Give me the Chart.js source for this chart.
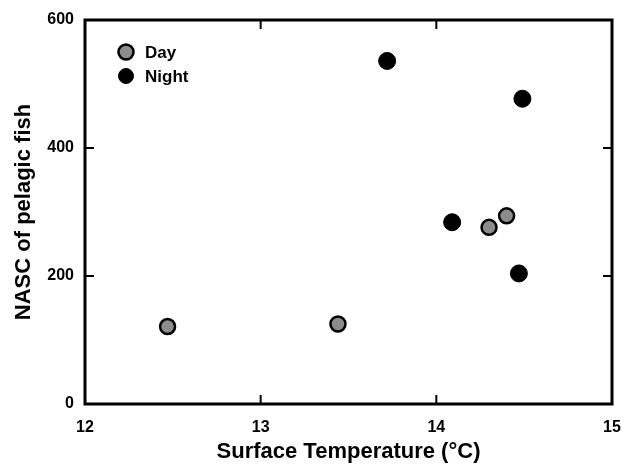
<!DOCTYPE html>
<html>
<head>
<meta charset="utf-8">
<script src="https://cdn.jsdelivr.net/npm/chart.js@4/dist/chart.umd.min.js"></script>
<style>
  html, body { margin: 0; padding: 0; background: #fff; }
  #wrap { width: 626px; height: 465px; }
</style>
</head>
<body>
<div id="wrap"><canvas id="c"></canvas></div>
<script>
// values
const dayTemp = [12.47, 13.44, 14.30, 14.40];
const dayNasc = [121, 125, 276, 294];
const nightTemp = [13.72, 14.09, 14.47, 14.49];
const nightNasc = [536, 284, 204, 477];
const xTicks = [12, 13, 14, 15];
const yTicks = [0, 200, 400, 600];

const FONT = 'Arial, "Liberation Sans", sans-serif';

const toPoints = (xs, ys) => xs.map((x, i) => ({ x: x, y: ys[i] }));

// frame on all four sides with inward ticks
const framePlugin = {
  id: 'frame',
  afterDatasetsDraw(chart) {
    const { ctx, chartArea: a, scales } = chart;
    const len = 9;
    ctx.save();
    ctx.strokeStyle = '#000';
    ctx.lineWidth = 3;
    ctx.strokeRect(a.left, a.top, a.right - a.left, a.bottom - a.top);
    ctx.lineWidth = 2;
    ctx.beginPath();
    xTicks.forEach(v => {
      const px = scales.x.getPixelForValue(v);
      ctx.moveTo(px, a.bottom); ctx.lineTo(px, a.bottom - len);
      ctx.moveTo(px, a.top); ctx.lineTo(px, a.top + len);
    });
    yTicks.forEach(v => {
      const py = scales.y.getPixelForValue(v);
      ctx.moveTo(a.left, py); ctx.lineTo(a.left + len, py);
      ctx.moveTo(a.right, py); ctx.lineTo(a.right - len, py);
    });
    ctx.stroke();
    ctx.restore();
  }
};

// legend inside the plot, top-left
const innerLegend = {
  id: 'innerLegend',
  afterDraw(chart) {
    const { ctx, chartArea: a } = chart;
    ctx.save();
    ctx.font = 'bold 17px ' + FONT;
    ctx.textBaseline = 'middle';
    chart.data.datasets.forEach((ds, i) => {
      const cx = a.left + 41, cy = a.top + 32 + i * 24;
      ctx.beginPath();
      ctx.arc(cx, cy, 7.5, 0, Math.PI * 2);
      ctx.fillStyle = ds.backgroundColor;
      ctx.fill();
      ctx.lineWidth = ds.borderWidth;
      ctx.strokeStyle = ds.borderColor;
      ctx.stroke();
      ctx.fillStyle = '#000';
      ctx.fillText(ds.label, cx + 19, cy + 1);
    });
    ctx.restore();
  }
};

new Chart(document.getElementById('c'), {
  type: 'scatter',
  data: {
    datasets: [
      { label: 'Day', data: toPoints(dayTemp, dayNasc), backgroundColor: '#8c8c8c', borderColor: '#000', borderWidth: 2.5, pointRadius: 7.5 },
      { label: 'Night', data: toPoints(nightTemp, nightNasc), backgroundColor: '#000', borderColor: '#000', borderWidth: 1, pointRadius: 8.5 }
    ]
  },
  options: {
    responsive: true, maintainAspectRatio: false, animation: false,
    layout: { padding: { top: 20, right: 14, left: 0, bottom: 0 } },
    plugins: { legend: { display: false }, tooltip: { enabled: false } },
    scales: {
      x: {
        type: 'linear', min: 12, max: 15,
        afterBuildTicks: s => { s.ticks = xTicks.map(v => ({ value: v })); },
        afterFit: s => { s.height = 61; s.paddingLeft = 0; s.paddingRight = 0; },
        grid: { display: false }, border: { display: false },
        ticks: { color: '#000', padding: 6, font: { family: FONT, size: 16, weight: 'bold' } },
        title: { display: true, text: 'Surface Temperature (°C)', color: '#000', padding: { top: 0, bottom: 0 }, font: { family: FONT, size: 22, weight: 'bold' } }
      },
      y: {
        type: 'linear', min: 0, max: 600,
        afterBuildTicks: s => { s.ticks = yTicks.map(v => ({ value: v })); },
        afterFit: s => { s.width = 85; s.paddingTop = 0; s.paddingBottom = 0; },
        grid: { display: false }, border: { display: false },
        ticks: { color: '#000', padding: 3, font: { family: FONT, size: 16, weight: 'bold' } },
        title: { display: true, text: 'NASC of pelagic fish', color: '#000', padding: { top: 11, bottom: 0 }, font: { family: FONT, size: 22, weight: 'bold' } }
      }
    }
  },
  plugins: [framePlugin, innerLegend]
});
</script>
</body>
</html>
